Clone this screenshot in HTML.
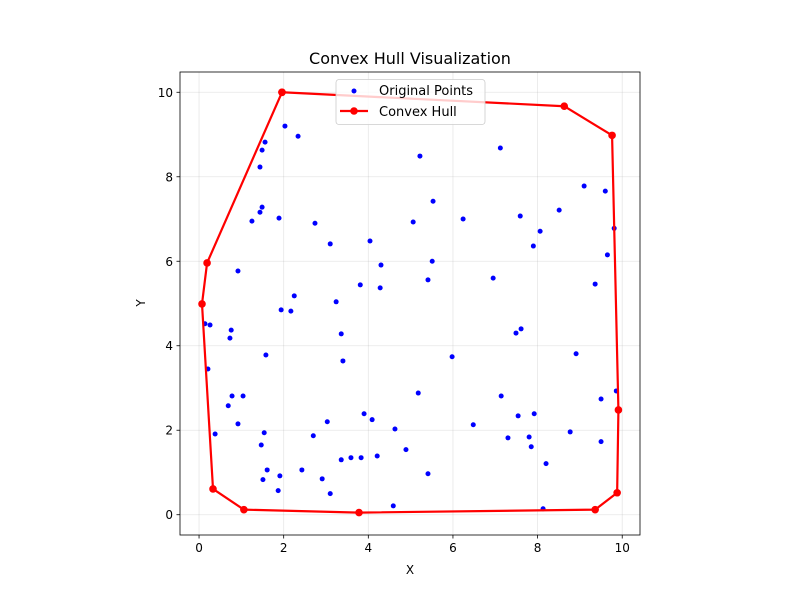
<!DOCTYPE html>
<html><head><meta charset="utf-8"><style>
body{margin:0;background:#fff;}
svg{display:block;font-family:"DejaVu Sans","Liberation Sans",sans-serif;}
</style></head><body>
<svg id="chart" width="800" height="600"></svg>
<script>
const xTicks=[0,2,4,6,8,10];
const yTicks=[0,2,4,6,8,10];
const pointsX=[1.56,1.49,1.44,2.03,2.34,1.49,1.44,1.25,1.89,2.74,3.10,4.04,4.30,3.81,4.28,2.25,1.94,2.17,3.24,3.36,3.40,0.92,0.14,0.26,0.76,0.73,0.21,0.38,0.78,1.04,0.69,0.92,1.54,1.47,1.58,1.61,1.51,1.91,1.87,2.43,2.91,3.10,2.70,3.03,3.36,3.59,3.83,3.90,4.09,4.21,4.63,4.89,4.59,5.41,5.18,5.22,5.06,5.53,5.51,5.41,5.98,6.24,6.48,6.95,7.12,7.14,7.30,7.59,7.49,7.61,7.54,7.80,7.85,7.92,8.20,8.06,7.90,8.51,9.10,9.60,8.91,8.77,9.36,9.65,9.81,9.50,9.50,9.86,8.13];
const pointsY=[8.82,8.63,8.23,9.20,8.96,7.28,7.16,6.95,7.02,6.90,6.41,6.48,5.91,5.44,5.37,5.18,4.85,4.82,5.04,4.28,3.64,5.77,4.52,4.49,4.37,4.18,3.45,1.91,2.81,2.81,2.58,2.15,1.94,1.65,3.78,1.06,0.83,0.92,0.57,1.06,0.85,0.50,1.87,2.20,1.30,1.35,1.35,2.39,2.25,1.39,2.03,1.54,0.21,0.97,2.88,8.49,6.93,7.42,6.00,5.56,3.74,7.00,2.13,5.60,8.68,2.81,1.82,7.07,4.30,4.40,2.34,1.84,1.61,2.39,1.21,6.71,6.36,7.21,7.78,7.66,3.81,1.96,5.46,6.15,6.78,2.74,1.73,2.93,0.14];
const hullX=[1.96,8.63,9.76,9.91,9.88,9.36,3.78,1.06,0.33,0.07,0.19,1.96];
const hullY=[10.0,9.67,8.98,2.48,0.52,0.12,0.05,0.12,0.61,4.99,5.96,10.0];

const NS="http://www.w3.org/2000/svg";
const svg=document.getElementById('chart');
const L=180,R=640,T=72,B=535;
const X0=-0.45,X1=10.42,Y0=-0.48,Y1=10.48;
function sx(v){return L+(v-X0)/(X1-X0)*(R-L);}
function sy(v){return B-(v-Y0)/(Y1-Y0)*(B-T);}
function mk(tag,attrs,parent){const e=document.createElementNS(NS,tag);for(const k in attrs)e.setAttribute(k,attrs[k]);(parent||svg).appendChild(e);return e;}

let t=mk('text',{x:410,y:64,'text-anchor':'middle','font-size':16,fill:'#000'});t.textContent='Convex Hull Visualization';



xTicks.forEach(v=>{
  const g=mk('line',{x1:sx(v),x2:sx(v),y1:T,y2:B,stroke:'#b0b0b0','stroke-opacity':0.3,'stroke-width':0.8});
  
  
  mk('line',{x1:sx(v),x2:sx(v),y1:B,y2:B+3.5,stroke:'#000','stroke-width':0.8});
  const tl=mk('text',{x:sx(v),y:B+17,'text-anchor':'middle','font-size':12,fill:'#000'});tl.textContent=v;
  
  
});
yTicks.forEach(v=>{
  const g=mk('line',{x1:L,x2:R,y1:sy(v),y2:sy(v),stroke:'#b0b0b0','stroke-opacity':0.3,'stroke-width':0.8});
  
  
  mk('line',{x1:L-3.5,x2:L,y1:sy(v),y2:sy(v),stroke:'#000','stroke-width':0.8});
  const tl=mk('text',{x:L-7,y:sy(v)+4.5,'text-anchor':'end','font-size':12,fill:'#000'});tl.textContent=v;
  
  
});

pointsX.forEach((x,i)=>{
  const c=mk('circle',{cx:sx(x),cy:sy(pointsY[i]),r:2.5,fill:'#0000ff'});
  
  
});

const hp=hullX.map((x,i)=>sx(x)+','+sy(hullY[i])).join(' ');
const hl=mk('polyline',{points:hp,fill:'none',stroke:'#ff0000','stroke-width':2.2,'stroke-linejoin':'round'});


hullX.forEach((x,i)=>{
  const c=mk('circle',{cx:sx(x),cy:sy(hullY[i]),r:3.8,fill:'#ff0000'});
  
  
});

const frame=mk('rect',{x:L,y:T,width:R-L,height:B-T,fill:'none',stroke:'#000','stroke-width':0.8});



const xl=mk('text',{x:(L+R)/2,y:574,'text-anchor':'middle','font-size':12,fill:'#000'});xl.textContent='X';


const yl=mk('text',{x:145,y:303,'text-anchor':'middle','font-size':12,fill:'#000',transform:'rotate(-90 145 303)'});yl.textContent='Y';



const lg=mk('g',{});


mk('rect',{x:336,y:79.5,width:149,height:45,rx:3,fill:'#fff','fill-opacity':0.8,stroke:'#cccccc','stroke-width':0.8},lg);
mk('circle',{cx:354,cy:91,r:2.5,fill:'#0000ff'},lg);
let e1=mk('text',{x:379,y:95,'font-size':13,fill:'#000'},lg);e1.textContent='Original Points';


mk('line',{x1:340,x2:368,y1:111,y2:111,stroke:'#ff0000','stroke-width':2.2},lg);
mk('circle',{cx:354,cy:111,r:3.8,fill:'#ff0000'},lg);
let e2=mk('text',{x:379,y:116,'font-size':13,fill:'#000'},lg);e2.textContent='Convex Hull';


</script>
</body></html>
